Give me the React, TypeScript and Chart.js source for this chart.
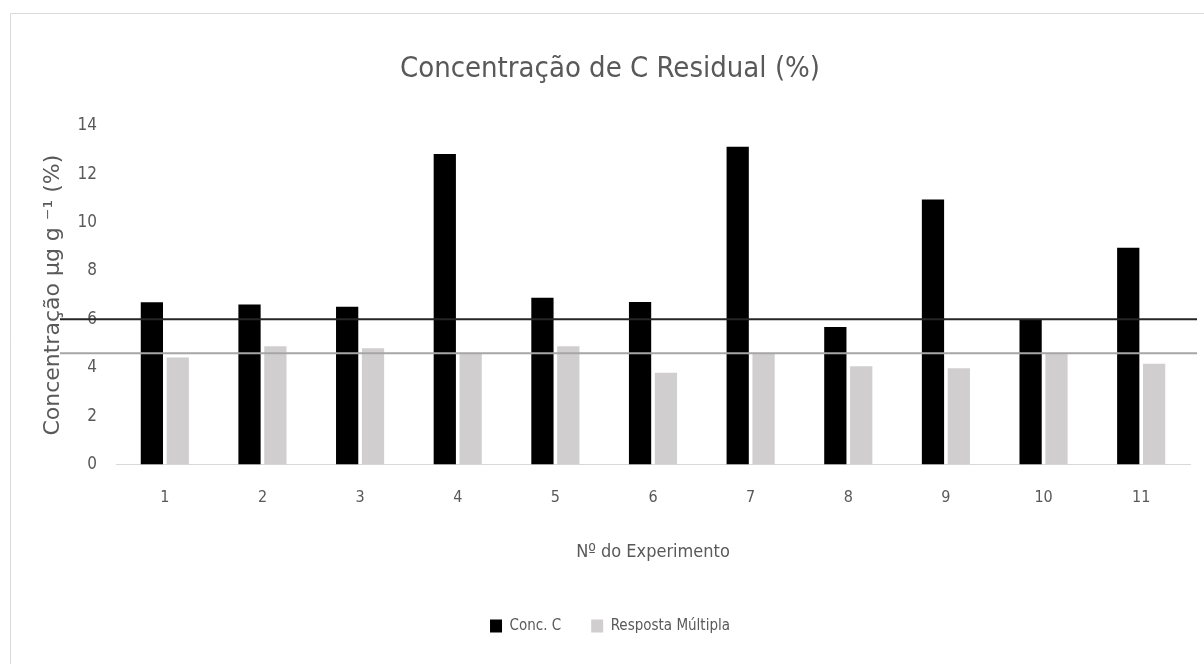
import { useEffect, useRef } from "react";
import { Chart, registerables } from "chart.js";

Chart.register(...registerables);

const categories = ["1", "2", "3", "4", "5", "6", "7", "8", "9", "10", "11"];
const concC = [6.71, 6.61, 6.52, 12.83, 6.89, 6.72, 13.13, 5.68, 10.95, 6.0, 8.96];
const respostaMultipla = [4.42, 4.89, 4.8, 4.6, 4.89, 3.79, 4.6, 4.06, 3.98, 4.6, 4.16];
const referenceLineValues = [6, 4.6];
const referenceLineColors = ["#262626", "#a6a6a6"];
const yMin = 0;
const yMax = 14;
const yStep = 2;

const narrow = "'Liberation Sans Narrow', 'DejaVu Sans Condensed', sans-serif";
const textGray = "#595959";

const decorPlugin = {
  id: "decor",
  beforeDraw(chart: any) {
    const ctx = chart.ctx;
    ctx.save();
    ctx.fillStyle = "#ffffff";
    ctx.fillRect(0, 0, chart.width, chart.height);
    ctx.strokeStyle = "#d9d9d9";
    ctx.lineWidth = 1;
    ctx.beginPath();
    ctx.moveTo(10.5, chart.height);
    ctx.lineTo(10.5, 13.5);
    ctx.lineTo(chart.width, 13.5);
    ctx.stroke();
    ctx.restore();
  },
  afterDatasetsDraw(chart: any) {
    const ctx = chart.ctx;
    const y = chart.scales.y;
    const area = chart.chartArea;
    ctx.save();
    referenceLineValues.forEach((v, i) => {
      const py = y.getPixelForValue(v);
      ctx.strokeStyle = referenceLineColors[i];
      ctx.lineWidth = 2;
      ctx.beginPath();
      ctx.moveTo(area.left - 56, py);
      ctx.lineTo(area.right + 7, py);
      ctx.stroke();
    });
    ctx.restore();
  },
};

export default function App() {
  const ref = useRef<HTMLCanvasElement>(null);
  useEffect(() => {
    if (!ref.current) return;
    const chart = new Chart(ref.current, {
      type: "bar",
      data: {
        labels: categories,
        datasets: [
          {
            label: "Conc. C",
            data: concC,
            backgroundColor: "#000000",
            borderWidth: 0,
            categoryPercentage: 0.53,
            barPercentage: 0.86,
          },
          {
            label: "Resposta Múltipla",
            data: respostaMultipla,
            backgroundColor: "#d0cece",
            borderWidth: 0,
            categoryPercentage: 0.53,
            barPercentage: 0.86,
          },
        ],
      },
      options: {
        responsive: false,
        animation: false,
        layout: { padding: { left: 30, right: 14, top: 0, bottom: 20.5 } },
        plugins: {
          title: {
            display: true,
            text: "Concentração de C Residual (%)",
            color: textGray,
            font: { family: narrow, size: 29, weight: "normal" },
            padding: { top: 52, bottom: 39 },
          },
          legend: {
            position: "bottom",
            labels: {
              boxWidth: 12,
              boxHeight: 13,
              color: textGray,
              padding: 30,
              font: { family: narrow, size: 15 },
            },
          },
          tooltip: { enabled: false },
        },
        scales: {
          x: {
            grid: { display: false, drawTicks: false },
            border: { display: true, color: "#d9d9d9", width: 1 },
            ticks: {
              color: textGray,
              padding: 24,
              font: { family: narrow, size: 16 },
            },
            title: {
              display: true,
              text: "Nº do Experimento",
              color: textGray,
              font: { family: narrow, size: 18 },
              padding: { top: 0, bottom: 25.7 },
            },
            afterFit(s: any) {
              s.height = 124;
            },
          },
          y: {
            min: yMin,
            max: yMax,
            grid: { display: false, drawTicks: false },
            border: { display: false },
            ticks: {
              stepSize: yStep,
              color: textGray,
              padding: 19,
              font: { family: narrow, size: 17 },
            },
            title: {
              display: true,
              text: "Concentração µg g ⁻¹ (%)",
              color: textGray,
              font: { family: "'DejaVu Sans', sans-serif", size: 22 },
              padding: { top: 10, bottom: 0 },
            },
            afterFit(s: any) {
              s.width = 86;
            },
          },
        },
      },
      plugins: [decorPlugin],
    });
    return () => chart.destroy();
  }, []);
  return (
    <div style={{ position: "fixed", left: 0, top: 0, width: 1204, height: 664 }}>
      <canvas ref={ref} width={1204} height={664} style={{ width: 1204, height: 664, display: "block" }} />
    </div>
  );
}
